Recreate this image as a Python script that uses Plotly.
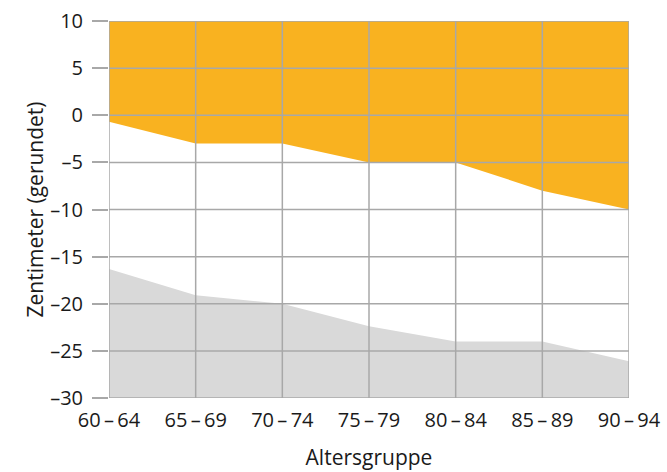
import plotly.graph_objects as go

categories = ["60\u2009–\u200964", "65\u2009–\u200969", "70\u2009–\u200974", "75\u2009–\u200979",
              "80\u2009–\u200984", "85\u2009–\u200989", "90\u2009–\u200994"]
upper_values = [-0.7, -3, -3, -5, -5, -8, -10]
lower_values = [-16.3, -19.1, -20, -22.4, -24, -24, -26.1]
y_ticks = [10, 5, 0, -5, -10, -15, -20, -25, -30]
y_ticktext = ["10", "5", "0", "–5", "–10", "–15", "–20", "–25", "–30"]
y_min, y_max = -30, 10

xs = list(range(len(categories)))
orange = "#F9B220"
grey_fill = "#D9D9D9"
grid = "#A8A8A8"

fig = go.Figure()
fig.add_trace(go.Scatter(x=xs, y=[y_max] * len(xs), mode="lines", line=dict(width=0),
                         hoverinfo="skip", showlegend=False))
fig.add_trace(go.Scatter(x=xs, y=upper_values, mode="lines", line=dict(width=0),
                         fill="tonexty", fillcolor=orange, showlegend=False))
fig.add_trace(go.Scatter(x=xs, y=[y_min] * len(xs), mode="lines", line=dict(width=0),
                         hoverinfo="skip", showlegend=False))
fig.add_trace(go.Scatter(x=xs, y=lower_values, mode="lines", line=dict(width=0),
                         fill="tonexty", fillcolor=grey_fill, showlegend=False))

shapes = []
for v in y_ticks:
    shapes.append(dict(type="line", xref="x", yref="y", x0=0, x1=len(xs) - 1, y0=v, y1=v,
                       line=dict(color=grid, width=1.5), layer="above"))
for xv in xs:
    shapes.append(dict(type="line", xref="x", yref="y", x0=xv, x1=xv, y0=y_min, y1=y_max,
                       line=dict(color=grid, width=1.5), layer="above"))

font = "Open Sans"
fig.update_layout(
    width=667, height=472,
    margin=dict(l=109, r=38, t=21, b=74, autoexpand=False),
    paper_bgcolor="white", plot_bgcolor="white",
    shapes=shapes,
    font=dict(family=font, size=20, color="#1a1a1a"),
    xaxis=dict(range=[0, len(xs) - 1], tickvals=xs, ticktext=categories, showgrid=False,
               zeroline=False, showline=False, ticks="", tickfont=dict(size=20),
               ticklabelstandoff=8, automargin=False,
               title=dict(text="Altersgruppe", font=dict(size=21), standoff=18)),
    yaxis=dict(range=[y_min, y_max], tickvals=y_ticks, ticktext=y_ticktext, showgrid=False,
               zeroline=False, showline=False, ticks="outside", ticklen=16, tickcolor=grid,
               tickwidth=1.5, tickfont=dict(size=20), automargin=False, ticklabelstandoff=5,
               title=dict(text="Zentimeter (gerundet)", font=dict(size=21), standoff=0)),
)

fig.write_html("out.html", config={"displayModeBar": False},
               post_script="document.body.style.margin='0';document.body.style.overflow='hidden';")
